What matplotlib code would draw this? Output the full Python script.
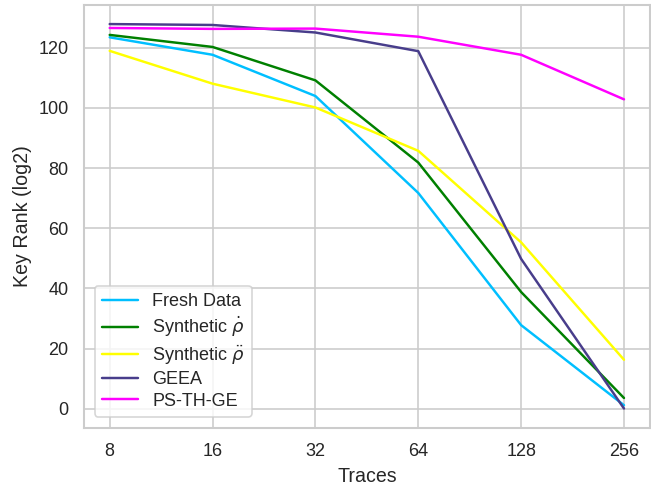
import matplotlib
matplotlib.use("Agg")
from matplotlib import pyplot as plt
from matplotlib.ticker import ScalarFormatter, FixedLocator
import seaborn as sns

traces = [8, 16, 32, 64, 128, 256]

fresh = [123.4, 117.6, 103.9, 71.7, 27.8, 1.2]
synth_dot = [124.2, 120.2, 109.1, 81.8, 38.8, 3.6]
synth_ddot = [118.9, 108.0, 100.1, 85.7, 55.3, 16.3]
geea = [127.8, 127.5, 125.0, 118.8, 49.8, 0.1]
ps_th_ge = [126.5, 126.2, 126.3, 123.6, 117.6, 102.8]

sns.set_theme(style="whitegrid")
plt.rcParams["font.family"] = ["Liberation Sans", "DejaVu Sans"]
plt.rcParams["mathtext.fontset"] = "dejavusans"

# small figure rendered at a higher dpi
fig, ax = plt.subplots(figsize=(5.517, 4.153), dpi=118)

ax.plot(traces, fresh, color="deepskyblue", label="Fresh Data")
ax.plot(traces, synth_dot, color="green", label=r"Synthetic $\dot{\rho}$")
ax.plot(traces, synth_ddot, color="yellow", label=r"Synthetic $\ddot{\rho}$")
ax.plot(traces, geea, color="darkslateblue", label="GEEA")
ax.plot(traces, ps_th_ge, color="magenta", label="PS-TH-GE")

ax.set_xscale("log", base=2)
ax.xaxis.set_major_locator(FixedLocator(traces))
ax.xaxis.set_major_formatter(ScalarFormatter())
ax.xaxis.set_minor_locator(FixedLocator([]))

ax.set_xlabel("Traces")
ax.set_ylabel("Key Rank (log2)")
ax.legend(loc="lower left", labelspacing=0.25, borderaxespad=0.6)

fig.subplots_adjust(left=0.129, right=0.998, top=0.99, bottom=0.127)
fig.savefig("out.png")
